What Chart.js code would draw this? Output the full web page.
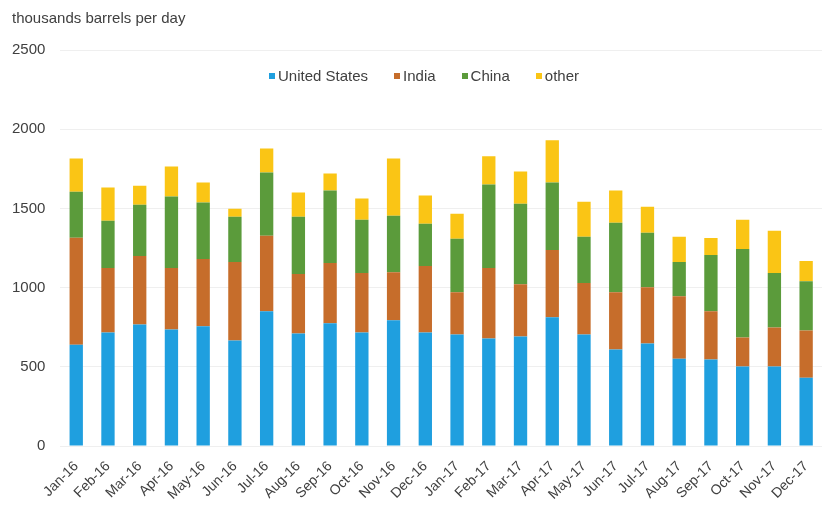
<!DOCTYPE html>
<html>
<head>
  <meta charset="UTF-8">
  <title>Imports by source</title>
  <script src="https://cdn.jsdelivr.net/npm/chart.js"></script>
  <style>
    body {
      margin: 0;
      background: #ffffff;
    }
    #wrap {
      position: relative;
      width: 832px;
      height: 512px;
      font-family: 'Liberation Sans', Arial, sans-serif;
      color: #404040;
    }
    #unit {
      position: absolute;
      left: 12px;
      top: 9px;
      font-size: 15px;
      line-height: 18px;
    }
    #legend {
      position: absolute;
      left: 0;
      width: 832px;
      top: 67px;
      display: flex;
      justify-content: center;
      gap: 26px;
      padding-left: 16px;
      box-sizing: border-box;
      font-size: 15px;
    }
    #legend span.box {
      display: inline-block;
      width: 6px;
      height: 6px;
      margin-right: 3px;
      vertical-align: 2px;
    }
  </style>
</head>
<body>
  <div id="wrap">
    <canvas id="chart" width="832" height="512"></canvas>
    <div id="unit">thousands barrels per day</div>
    <div id="legend"></div>
  </div>

  <script>
    // months
    const months = ['Jan-16', 'Feb-16', 'Mar-16', 'Apr-16', 'May-16', 'Jun-16', 'Jul-16', 'Aug-16',
      'Sep-16', 'Oct-16', 'Nov-16', 'Dec-16', 'Jan-17', 'Feb-17', 'Mar-17', 'Apr-17',
      'May-17', 'Jun-17', 'Jul-17', 'Aug-17', 'Sep-17', 'Oct-17', 'Nov-17', 'Dec-17'];

    // thousands barrels per day
    const unitedStates = [640, 717, 768, 736, 756, 667, 851, 711, 775, 717, 794, 717,
      705, 679, 692, 813, 705, 610, 648, 552, 546, 502, 502, 432];
    const india = [675, 407, 432, 388, 425, 495, 476, 375, 381, 375, 304, 420,
      266, 445, 330, 425, 324, 361, 355, 394, 305, 184, 247, 298];
    const china = [290, 298, 324, 451, 356, 286, 400, 362, 457, 337, 356, 266,
      337, 527, 508, 425, 292, 439, 343, 216, 355, 558, 343, 311];
    const other = [210, 210, 120, 190, 126, 50, 152, 152, 108, 133, 362, 178,
      159, 178, 203, 267, 222, 203, 165, 159, 108, 185, 267, 127];

    const yTicks = [0, 500, 1000, 1500, 2000, 2500];

    const font = "'Liberation Sans', Arial, sans-serif";

    const chart = new Chart(document.getElementById('chart'), {
      type: 'bar',
      data: {
        labels: months,
        datasets: [
          { label: 'United States', data: unitedStates, backgroundColor: '#1f9fdf' },
          { label: 'India', data: india, backgroundColor: '#c66d2b' },
          { label: 'China', data: china, backgroundColor: '#5b9b3b' },
          { label: 'other', data: other, backgroundColor: '#fac515' }
        ]
      },
      options: {
        responsive: false,
        animation: false,
        layout: {
          padding: { left: -3, right: 10, top: 50, bottom: 5 }
        },
        datasets: {
          bar: { barPercentage: 0.42, categoryPercentage: 1 }
        },
        plugins: {
          title: { display: false },
          legend: { display: false },
          tooltip: { enabled: false }
        },
        scales: {
          x: {
            stacked: true,
            grid: { display: false },
            border: { display: false },
            ticks: {
              color: '#404040',
              font: { family: font, size: 14 },
              minRotation: 45,
              maxRotation: 45,
              padding: 4
            }
          },
          y: {
            stacked: true,
            min: 0,
            max: 2500,
            afterBuildTicks: axis => {
              axis.ticks = yTicks.map(v => ({ value: v }));
            },
            grid: { color: '#efefef', drawTicks: false },
            border: { display: false },
            ticks: {
              color: '#404040',
              font: { family: font, size: 15 },
              padding: 15,
              callback: v => String(v)
            }
          }
        }
      }
    });

    // legend as plain text, built from the datasets
    const legend = document.getElementById('legend');
    chart.data.datasets.forEach(ds => {
      const item = document.createElement('div');
      item.innerHTML = '<span class="box" style="background:' + ds.backgroundColor + '"></span>' + ds.label;
      legend.appendChild(item);
    });
  </script>
</body>
</html>
